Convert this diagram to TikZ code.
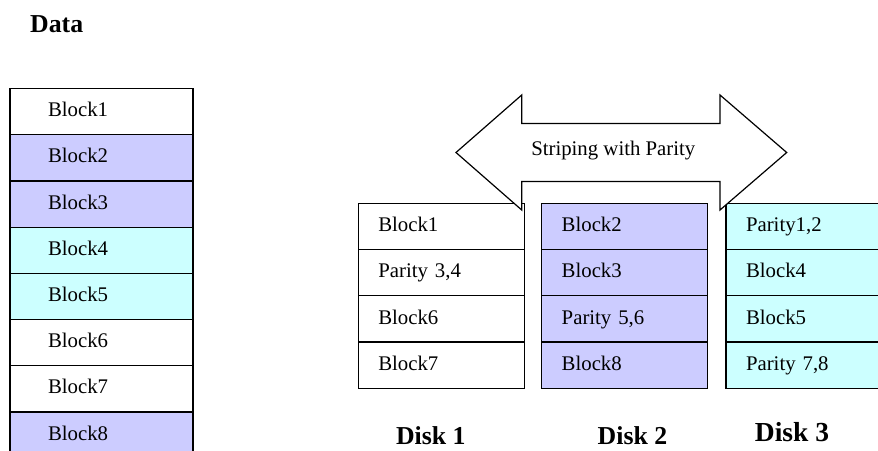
\documentclass[tikz,border=0pt]{standalone}
\usepackage{fontspec}
\setmainfont{Liberation Serif}
\usepackage{xcolor}
\usetikzlibrary{positioning}

\definecolor{lavender}{HTML}{CCCCFF}
\definecolor{paleaqua}{HTML}{CCFFFF}

\begin{document}
\begin{tikzpicture}[
    x=1pt, y=-1pt,
    font=\fontsize{20.8}{25}\selectfont,
    datacell/.style={
        rectangle,
        draw=black,
        line width=1.2pt,
        minimum width=183pt,
        minimum height=46.2pt,
        inner xsep=38pt,
        text width=107pt,
        align=left,
        text height=1.1em,
        text depth=0.08em,
        outer sep=0pt
    },
    diskcell/.style={
        datacell,
        minimum width=166pt,
        minimum height=46.25pt,
        inner xsep=20pt,
        text width=126pt
    },
    title/.style={font=\fontsize{25.8}{30}\selectfont\bfseries},
    fatarrow/.style={draw=black, line width=1.2pt, fill=white, line join=miter}
]

\clip (0, 0) rectangle (878, 450);

\node[title] (datatitle) at (56.7, 23.7) {Data};

% data column
\node[datacell, fill=white]    (d1) at (101.5, 111.6) {Block1};
\node[datacell, fill=lavender] (d2) at (101.5, 157.8) {Block2};
\node[datacell, fill=lavender] (d3) at (101.5, 204.0) {Block3};
\node[datacell, fill=paleaqua] (d4) at (101.5, 250.2) {Block4};
\node[datacell, fill=paleaqua] (d5) at (101.5, 296.4) {Block5};
\node[datacell, fill=white]    (d6) at (101.5, 342.6) {Block6};
\node[datacell, fill=white]    (d7) at (101.5, 388.8) {Block7};
\node[datacell, fill=lavender] (d8) at (101.5, 435.0) {Block8};

% disk 1
\node[diskcell, fill=white] (a1) at (441.3, 226.4) {Block1};
\node[diskcell, fill=white] (a2) at (441.3, 272.7) {Parity 3,4};
\node[diskcell, fill=white] (a3) at (441.3, 318.9) {Block6};
\node[diskcell, fill=white] (a4) at (441.3, 365.2) {Block7};

% disk 2
\node[diskcell, fill=lavender] (b1) at (624.7, 226.4) {Block2};
\node[diskcell, fill=lavender] (b2) at (624.7, 272.7) {Block3};
\node[diskcell, fill=lavender] (b3) at (624.7, 318.9) {Parity 5,6};
\node[diskcell, fill=lavender] (b4) at (624.7, 365.2) {Block8};

% disk 3
\node[diskcell, fill=paleaqua] (c1) at (809.0, 226.4) {Parity1,2};
\node[diskcell, fill=paleaqua] (c2) at (809.0, 272.7) {Block4};
\node[diskcell, fill=paleaqua] (c3) at (809.0, 318.9) {Block5};
\node[diskcell, fill=paleaqua] (c4) at (809.0, 365.2) {Parity 7,8};

\node[title] (disk1) at (430.8, 436.0) {Disk 1};
\node[title] (disk2) at (632.5, 436.0) {Disk 2};
\node[title, font=\fontsize{27.5}{32}\selectfont\bfseries] (disk3) at (792.0, 432.5) {Disk 3};

% double arrow over the disks
\draw[fatarrow] (456, 152.5) -- (521.7, 95) -- (521.7, 123.5) -- (720, 123.5)
    -- (720, 95) -- (786.7, 152.5) -- (720, 210) -- (720, 181.5)
    -- (521.7, 181.5) -- (521.7, 210) -- cycle;
\node (striping) at (613.3, 150.5) {Striping with Parity};

\end{tikzpicture}
\end{document}
